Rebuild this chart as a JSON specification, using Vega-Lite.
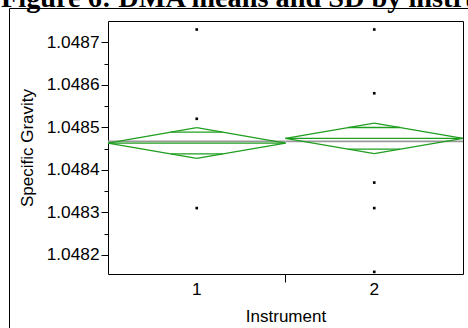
{
  "$schema": "https://vega.github.io/schema/vega-lite/v6.json",
  "autosize": "none",
  "padding": {"left": 9, "top": 8, "right": 0, "bottom": 0},
  "width": 470,
  "height": 330,
  "background": "white",
  "title": {
    "text": "Figure 6: DMA means and SD by instrument",
    "anchor": "start",
    "frame": "group",
    "font": "Liberation Serif",
    "fontSize": 28.3,
    "fontWeight": "bold",
    "color": "black",
    "baseline": "alphabetic",
    "offset": 1.5,
    "dx": -8,
    "dy": 28.5
  },
  "config": {
    "view": {"stroke": "black", "strokeWidth": 1, "fill": "white"},
    "axis": {
      "labelFont": "Liberation Sans",
      "labelFontSize": 17.3,
      "labelColor": "black",
      "titleFont": "Liberation Sans",
      "titleFontSize": 17,
      "titleFontWeight": "normal",
      "titleColor": "black",
      "domainColor": "black",
      "tickColor": "black",
      "grid": false
    }
  },
  "datasets": {
    "points": [
      {"Instrument": "1", "SG": 1.04873},
      {"Instrument": "1", "SG": 1.04852},
      {"Instrument": "1", "SG": 1.04831},
      {"Instrument": "2", "SG": 1.04873},
      {"Instrument": "2", "SG": 1.04858},
      {"Instrument": "2", "SG": 1.04837},
      {"Instrument": "2", "SG": 1.04831},
      {"Instrument": "2", "SG": 1.04816}
    ],
    "diamonds": [
      {"Instrument": "1", "Mean": 1.048463, "Upper": 1.048499, "Lower": 1.048427, "OverlapHi": 1.0484885, "OverlapLo": 1.0484375, "GrandMean": 1.048467},
      {"Instrument": "2", "Mean": 1.048474, "Upper": 1.04851, "Lower": 1.048438, "OverlapHi": 1.0484995, "OverlapLo": 1.0484485, "GrandMean": 1.048467}
    ]
  },
  "resolve": {"axis": {"x": "independent", "y": "independent"}},
  "layer": [
    {
      "data": {"name": "diamonds"},
      "mark": {"type": "rule", "color": "#9a9a9a", "strokeWidth": 1.6},
      "encoding": {
        "x": {"field": "Instrument", "type": "nominal", "bandPosition": 0,
          "scale": {"type": "band", "range": [99, 454], "paddingInner": 0, "paddingOuter": 0},
          "axis": {
            "orient": "bottom", "offset": -64, "title": "Instrument",
            "bandPosition": 0, "tickSize": 8, "labelAngle": 0,
            "tickOpacity": {"condition": {"test": "datum.value == '1'", "value": 0}, "value": 1},
            "labelPadding": -2, "titlePadding": 11
          }},
        "x2": {"field": "Instrument", "bandPosition": 1},
        "y": {"field": "GrandMean", "type": "quantitative",
          "scale": {"domain": [1.048155, 1.04875], "range": [266, 13], "zero": false, "nice": false},
          "axis": {
            "orient": "left", "offset": -99, "title": "Specific Gravity",
            "values": [1.0482, 1.04825, 1.0483, 1.04835, 1.0484, 1.04845, 1.0485, 1.04855, 1.0486, 1.04865, 1.0487],
            "labelExpr": "abs(round(datum.value*10000) - datum.value*10000) < 0.1 ? format(datum.value, '.4f') : ''",
            "tickSize": {"condition": {"test": "abs(round(datum.value*10000) - datum.value*10000) > 0.1", "value": 4}, "value": 7},
            "labelPadding": 2, "titlePadding": 10
          }}
      }
    },
    {
      "data": {"name": "diamonds"},
      "mark": {"type": "rule", "color": "#1f9e1f", "strokeWidth": 1.3},
      "encoding": {
        "x": {"field": "Instrument", "type": "nominal", "bandPosition": 0,
          "scale": {"type": "band", "range": [99, 454], "paddingInner": 0, "paddingOuter": 0},
          "axis": {"orient": "top", "offset": -13, "labels": false, "ticks": false, "title": null}},
        "x2": {"field": "Instrument", "bandPosition": 1},
        "y": {"field": "Mean", "type": "quantitative",
          "axis": {"orient": "right", "offset": -16, "labels": false, "ticks": false, "title": null}}
      }
    },
    {
      "data": {"name": "diamonds"},
      "mark": {"type": "rule", "color": "#1f9e1f", "strokeWidth": 1.3},
      "encoding": {
        "x": {"field": "Instrument", "type": "nominal", "bandPosition": 0, "axis": null},
        "x2": {"field": "Instrument", "bandPosition": 0.5},
        "y": {"field": "Mean", "type": "quantitative", "axis": null},
        "y2": {"field": "Upper"}
      }
    },
    {
      "data": {"name": "diamonds"},
      "mark": {"type": "rule", "color": "#1f9e1f", "strokeWidth": 1.3},
      "encoding": {
        "x": {"field": "Instrument", "type": "nominal", "bandPosition": 0.5, "axis": null},
        "x2": {"field": "Instrument", "bandPosition": 1},
        "y": {"field": "Upper", "type": "quantitative", "axis": null},
        "y2": {"field": "Mean"}
      }
    },
    {
      "data": {"name": "diamonds"},
      "mark": {"type": "rule", "color": "#1f9e1f", "strokeWidth": 1.3},
      "encoding": {
        "x": {"field": "Instrument", "type": "nominal", "bandPosition": 0, "axis": null},
        "x2": {"field": "Instrument", "bandPosition": 0.5},
        "y": {"field": "Mean", "type": "quantitative", "axis": null},
        "y2": {"field": "Lower"}
      }
    },
    {
      "data": {"name": "diamonds"},
      "mark": {"type": "rule", "color": "#1f9e1f", "strokeWidth": 1.3},
      "encoding": {
        "x": {"field": "Instrument", "type": "nominal", "bandPosition": 0.5, "axis": null},
        "x2": {"field": "Instrument", "bandPosition": 1},
        "y": {"field": "Lower", "type": "quantitative", "axis": null},
        "y2": {"field": "Mean"}
      }
    },
    {
      "data": {"name": "diamonds"},
      "mark": {"type": "rule", "color": "#1f9e1f", "strokeWidth": 1.3},
      "encoding": {
        "x": {"field": "Instrument", "type": "nominal", "bandPosition": 0.3536, "axis": null},
        "x2": {"field": "Instrument", "bandPosition": 0.6464},
        "y": {"field": "OverlapHi", "type": "quantitative", "axis": null}
      }
    },
    {
      "data": {"name": "diamonds"},
      "mark": {"type": "rule", "color": "#1f9e1f", "strokeWidth": 1.3},
      "encoding": {
        "x": {"field": "Instrument", "type": "nominal", "bandPosition": 0.3536, "axis": null},
        "x2": {"field": "Instrument", "bandPosition": 0.6464},
        "y": {"field": "OverlapLo", "type": "quantitative", "axis": null}
      }
    },
    {
      "data": {"name": "points"},
      "mark": {"type": "square", "color": "black", "size": 7, "opacity": 1},
      "encoding": {
        "x": {"field": "Instrument", "type": "nominal", "axis": null},
        "y": {"field": "SG", "type": "quantitative", "axis": null}
      }
    }
  ]
}
